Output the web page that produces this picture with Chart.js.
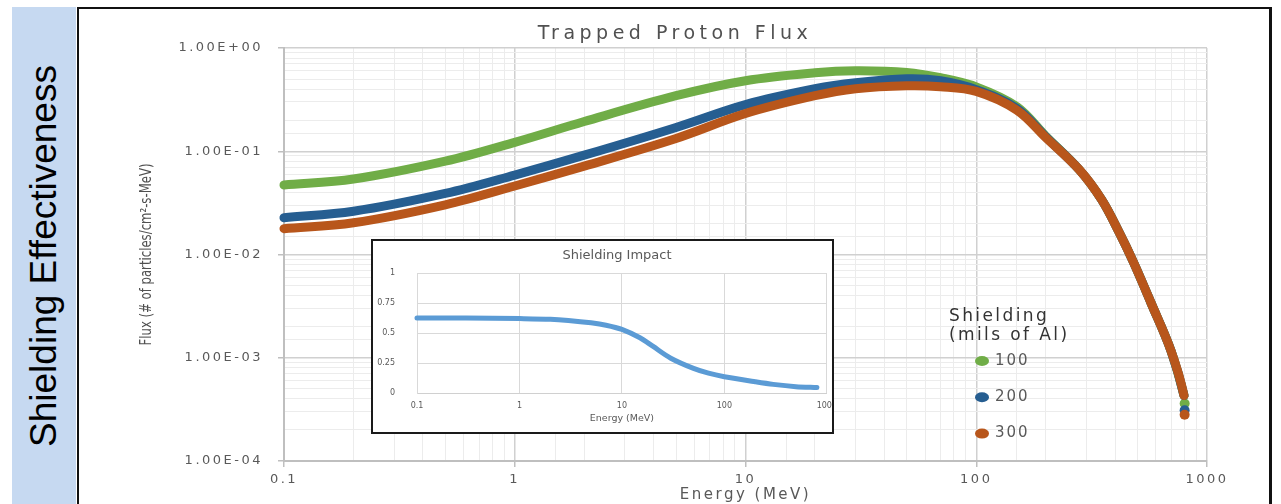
<!DOCTYPE html>
<html>
<head>
<meta charset="utf-8">
<script src="https://cdn.jsdelivr.net/npm/chart.js@4.4.1/dist/chart.umd.min.js"></script>
<style>
  html, body { margin: 0; padding: 0; background: #fff; width: 1281px; height: 504px; overflow: hidden; }
  #strip { position: absolute; left: 12px; top: 7px; width: 64px; height: 497px; background: #c6d9f1; }
  #strip span {
    position: absolute; left: 50%; top: 50%;
    transform: translate(-50%, -50%) rotate(-90deg);
    white-space: nowrap; font: 37px "Liberation Sans", Arial, sans-serif; color: #000;
  }
  #frame { position: absolute; left: 77px; top: 7px; width: 1195px; height: 520px; border: 2px solid #111; border-right-width: 3px; box-sizing: border-box; }
  #main { position: absolute; left: 79px; top: 9px; }
  #inset { position: absolute; left: 371px; top: 239px; width: 463px; height: 195px; border: 2px solid #1a1a1a; box-sizing: border-box; background: #fff; overflow: hidden; }
</style>
</head>
<body>
<div id="strip"><span>Shielding Effectiveness</span></div>
<div id="frame"></div>
<canvas id="main" width="1190" height="495"></canvas>
<div id="inset"><canvas id="impact" width="472" height="191"></canvas></div>
<script>
// Main chart data
const energyMeV = [0.1, 0.2, 0.5, 1, 2, 5, 10, 20, 30, 50, 70, 100, 150, 200, 280, 350, 415, 478, 572, 698, 795, 800];
const flux100 = [0.0471, 0.0538, 0.0801, 0.122, 0.194, 0.345, 0.482, 0.575, 0.601, 0.58, 0.515, 0.42, 0.27, 0.14, 0.066, 0.0338, 0.0166, 0.0086, 0.0034, 0.00117, 0.00043, 0.00036];
const flux200 = [0.0227, 0.0262, 0.039, 0.0588, 0.0916, 0.17, 0.283, 0.403, 0.461, 0.503, 0.482, 0.395, 0.26, 0.138, 0.066, 0.0338, 0.0166, 0.0086, 0.0034, 0.00117, 0.00043, 0.00031];
const flux300 = [0.0178, 0.0203, 0.0303, 0.0461, 0.0718, 0.133, 0.232, 0.345, 0.403, 0.431, 0.422, 0.38, 0.25, 0.136, 0.066, 0.0338, 0.0166, 0.0086, 0.0034, 0.00117, 0.00043, 0.00028];
const shieldingLabels = ['100', '200', '300'];
const seriesColors = ['#70ad47', '#265e91', '#b8561b'];
const legendTitle = ['Shielding', '(mils of Al)'];
const xTickLabels = ['0.1', '1', '10', '100', '1000'];
const yTickLabels = ['1.00E-04', '1.00E-03', '1.00E-02', '1.00E-01', '1.00E+00'];

// Inset data
const impactEnergy = [0.1, 0.3, 1, 2, 3, 5, 7, 10, 15, 20, 30, 50, 70, 100, 200, 300, 500, 800];
const impactRatio = [0.625, 0.625, 0.62, 0.615, 0.605, 0.585, 0.565, 0.53, 0.46, 0.39, 0.29, 0.205, 0.165, 0.136, 0.094, 0.072, 0.053, 0.045];
const impactTickLabels = ['0', '0.25', '0.5', '0.75', '1'];

const fluxSeries = [flux100, flux200, flux300];
const lastIdx = energyMeV.length - 1;

function isDecade(v) {
  const l = Math.log10(v);
  return Math.abs(l - Math.round(l)) < 1e-6;
}

// Wide lettering like the source picture.
const spacing = {
  id: 'spacing',
  beforeLayout(chart, args, o) { chart.ctx.letterSpacing = o.px + 'px'; },
  beforeDraw(chart, args, o) { chart.ctx.letterSpacing = o.px + 'px'; }
};

const titlePlugin = {
  id: 'chartTitle',
  afterDraw(chart, args, o) {
    const ctx = chart.ctx;
    ctx.save();
    ctx.letterSpacing = o.spacing + 'px';
    ctx.font = o.font;
    ctx.fillStyle = o.color;
    ctx.textAlign = 'center';
    ctx.textBaseline = 'middle';
    ctx.fillText(o.text, o.x, o.y);
    ctx.restore();
  }
};

const yTitlePlugin = {
  id: 'yTitle',
  afterDraw(chart, args, o) {
    const ctx = chart.ctx;
    const a = chart.chartArea;
    ctx.save();
    ctx.letterSpacing = '0px';
    ctx.font = o.font;
    ctx.fillStyle = o.color;
    const w = ctx.measureText(o.text).width;
    ctx.translate(o.x, (a.top + a.bottom) / 2);
    ctx.rotate(-Math.PI / 2);
    ctx.scale(Math.min(1, o.length / w), 1);
    ctx.textAlign = 'center';
    ctx.textBaseline = 'middle';
    ctx.fillText(o.text, 0, 0);
    ctx.restore();
  }
};

const legendPlugin = {
  id: 'seriesLegend',
  afterDraw(chart, args, o) {
    const ctx = chart.ctx;
    const a = chart.chartArea;
    ctx.save();
    ctx.textAlign = 'left';
    ctx.textBaseline = 'middle';
    ctx.letterSpacing = '2.4px';
    ctx.font = '17px "DejaVu Sans"';
    ctx.fillStyle = '#333333';
    legendTitle.forEach((t, i) => ctx.fillText(t, a.left + o.x, a.top + o.y + i * 18.5));
    ctx.letterSpacing = '2px';
    ctx.font = '15px "DejaVu Sans"';
    chart.data.datasets.forEach((ds, i) => {
      const y = a.top + o.itemY + i * 36.3;
      ctx.fillStyle = ds.borderColor;
      ctx.beginPath();
      ctx.ellipse(a.left + o.dotX, y, 7, 5, 0, 0, Math.PI * 2);
      ctx.fill();
      ctx.fillStyle = '#595959';
      ctx.fillText(ds.label, a.left + o.textX, y);
    });
    ctx.restore();
  }
};

new Chart(document.getElementById('main'), {
  type: 'line',
  data: {
    datasets: shieldingLabels.map((label, i) => ({
      label: label,
      data: energyMeV.map((e, j) => ({ x: e, y: fluxSeries[i][j] })),
      borderColor: seriesColors[i],
      backgroundColor: seriesColors[i],
      borderWidth: 9,
      borderCapStyle: 'round',
      borderJoinStyle: 'round',
      tension: 0.35,
      pointRadius: (ctx) => (ctx.dataIndex === lastIdx ? 5 : 0),
      pointBorderWidth: 0,
      clip: false,
      order: 3 - i,
      segment: {
        // the last marker of each series sits apart from the line
        borderColor: (ctx) => (ctx.p1DataIndex === lastIdx ? 'rgba(0,0,0,0)' : undefined)
      }
    }))
  },
  options: {
    responsive: false,
    animation: false,
    devicePixelRatio: 1,
    layout: { padding: { left: 0, right: 62, top: 39, bottom: 0 } },
    plugins: {
      legend: { display: false },
      tooltip: { enabled: false },
      spacing: { px: 2.5 },
      chartTitle: { text: 'Trapped Proton Flux', font: '19px "DejaVu Sans"', spacing: 4.5, color: '#505050', x: 596, y: 25 },
      yTitle: { text: 'Flux (# of particles/cm\u00b2-s-MeV)', font: '15px "Liberation Sans Narrow", "DejaVu Sans Condensed", sans-serif', color: '#505050', x: 68, length: 182 },
      seriesLegend: { x: 665, y: 269, dotX: 698, textX: 711, itemY: 313 }
    },
    scales: {
      x: {
        type: 'logarithmic',
        position: 'bottom',
        min: 0.1,
        max: 1000,
        afterFit: (s) => { s.height = 43; },
        border: { color: '#bfbfbf', width: 2 },
        grid: {
          color: (ctx) => (isDecade(ctx.tick.value) ? '#d0d0d0' : '#ececec'),
          lineWidth: (ctx) => (isDecade(ctx.tick.value) ? 1.5 : 1),
          tickLength: 6,
          tickColor: (ctx) => (isDecade(ctx.tick.value) ? '#bfbfbf' : 'rgba(0,0,0,0)')
        },
        ticks: {
          autoSkip: false,
          maxRotation: 0,
          minRotation: 0,
          padding: 5,
          color: '#595959',
          font: { family: 'DejaVu Sans', size: 13 },
          callback: (v) => (isDecade(v) ? xTickLabels[Math.round(Math.log10(v)) + 1] : '')
        },
        title: {
          display: true,
          text: 'Energy (MeV)',
          color: '#595959',
          font: { family: 'DejaVu Sans', size: 15 },
          padding: { top: 0, bottom: 0 }
        }
      },
      y: {
        type: 'logarithmic',
        min: 1e-4,
        max: 1,
        afterFit: (s) => { s.width = 205; },
        border: { color: '#bfbfbf', width: 2 },
        grid: {
          color: (ctx) => (isDecade(ctx.tick.value) ? '#d0d0d0' : '#ececec'),
          lineWidth: (ctx) => (isDecade(ctx.tick.value) ? 1.5 : 1),
          tickLength: 6,
          tickColor: (ctx) => (isDecade(ctx.tick.value) ? '#bfbfbf' : 'rgba(0,0,0,0)')
        },
        ticks: {
          autoSkip: false,
          padding: 15,
          color: '#595959',
          font: { family: 'DejaVu Sans', size: 13 },
          callback: (v) => (isDecade(v) ? yTickLabels[Math.round(Math.log10(v)) + 4] : '')
        }
      }
    }
  },
  plugins: [spacing, titlePlugin, yTitlePlugin, legendPlugin]
});

// Inset: shielding impact
new Chart(document.getElementById('impact'), {
  type: 'line',
  data: {
    datasets: [{
      label: 'Shielding Impact',
      data: impactEnergy.map((e, j) => ({ x: e, y: impactRatio[j] })),
      borderColor: '#5b9bd5',
      borderWidth: 5,
      borderCapStyle: 'round',
      tension: 0.3,
      pointRadius: 0,
      clip: false
    }]
  },
  options: {
    responsive: false,
    animation: false,
    devicePixelRatio: 1,
    layout: { padding: { left: 0, right: 13, top: 32, bottom: 0 } },
    plugins: {
      legend: { display: false },
      tooltip: { enabled: false },
      chartTitle: { text: 'Shielding Impact', font: '13px "DejaVu Sans"', spacing: 0, color: '#595959', x: 244, y: 15 }
    },
    scales: {
      x: {
        type: 'logarithmic',
        min: 0.1,
        max: 1000,
        afterFit: (s) => { s.height = 39; },
        border: { color: '#d0d0d0', width: 1 },
        grid: {
          color: (ctx) => (isDecade(ctx.tick.value) ? '#d9d9d9' : 'rgba(0,0,0,0)'),
          drawTicks: false
        },
        ticks: {
          autoSkip: false,
          maxRotation: 0,
          minRotation: 0,
          padding: 8,
          color: '#595959',
          font: { family: 'DejaVu Sans', size: 8 },
          callback: (v) => (isDecade(v) ? xTickLabels[Math.round(Math.log10(v)) + 1] : '')
        },
        title: {
          display: true,
          text: 'Energy (MeV)',
          color: '#595959',
          font: { family: 'DejaVu Sans', size: 9.5 },
          padding: { top: 0, bottom: 8 }
        }
      },
      y: {
        min: 0,
        max: 1,
        afterFit: (s) => { s.width = 44; },
        border: { color: '#d9d9d9', width: 1 },
        grid: { color: '#d9d9d9', drawTicks: false },
        ticks: {
          stepSize: 0.25,
          padding: 22,
          color: '#595959',
          font: { family: 'DejaVu Sans', size: 8 },
          callback: (v) => impactTickLabels[Math.round(v * 4)]
        }
      }
    }
  },
  plugins: [titlePlugin]
});
</script>
</body>
</html>
